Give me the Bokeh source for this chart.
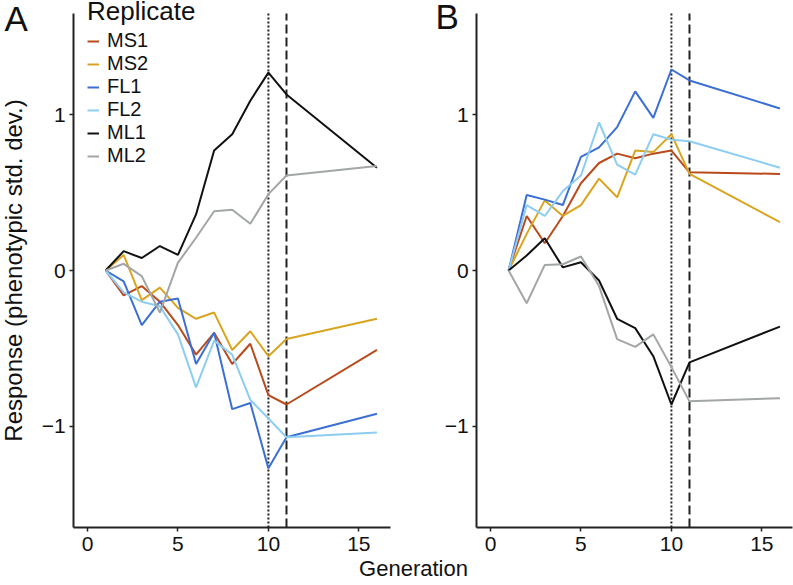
from bokeh.plotting import figure
from bokeh.models import Range1d, Label, Legend, LegendItem, FixedTicker, LinearAxis
from bokeh.embed import file_html
from bokeh.resources import INLINE

generation = [1, 2, 3, 4, 5, 6, 7, 8, 9, 10, 11, 16]
replicates = ["MS1", "MS2", "FL1", "FL2", "ML1", "ML2"]
colors = ["#B94A1C", "#D9A520", "#3C6FD4", "#8DCDF2", "#111111", "#A2A6A6"]

# Panel A
A_MS1 = [0, -0.16, -0.10, -0.20, -0.35, -0.54, -0.40, -0.60, -0.47, -0.80, -0.86, -0.51]
A_MS2 = [0, 0.10, -0.19, -0.11, -0.24, -0.31, -0.27, -0.51, -0.39, -0.55, -0.44, -0.31]
A_FL1 = [0, -0.07, -0.35, -0.20, -0.18, -0.60, -0.40, -0.89, -0.85, -1.27, -1.07, -0.92]
A_FL2 = [0, -0.14, -0.20, -0.23, -0.41, -0.75, -0.45, -0.54, -0.83, -0.95, -1.07, -1.04]
A_ML1 = [0, 0.124, 0.08, 0.157, 0.10, 0.36, 0.77, 0.875, 1.09, 1.27, 1.13, 0.66]
A_ML2 = [0, 0.043, -0.036, -0.27, 0.05, 0.21, 0.38, 0.39, 0.30, 0.49, 0.61, 0.67]

# Panel B
B_MS1 = [0, 0.35, 0.175, 0.35, 0.56, 0.69, 0.75, 0.72, 0.75, 0.77, 0.63, 0.62]
B_MS2 = [0, 0.235, 0.45, 0.35, 0.42, 0.59, 0.47, 0.77, 0.76, 0.875, 0.62, 0.31]
B_FL1 = [0, 0.485, 0.455, 0.42, 0.73, 0.79, 0.92, 1.15, 0.98, 1.29, 1.22, 1.04]
B_FL2 = [0, 0.42, 0.35, 0.51, 0.61, 0.95, 0.68, 0.615, 0.875, 0.84, 0.83, 0.66]
B_ML1 = [0, 0.096, 0.207, 0.02, 0.053, -0.064, -0.31, -0.37, -0.55, -0.86, -0.59, -0.36]
B_ML2 = [0, -0.21, 0.036, 0.04, 0.09, -0.10, -0.44, -0.49, -0.41, -0.62, -0.84, -0.82]

x_ticks = [0, 5, 10, 15]
y_ticks = [-1, 0, 1]
selection_end = 10
relaxed_start = 11
x_lim = (-0.77, 16.75)
y_lim = (-1.65, 1.65)

FONT = "Liberation Sans"
INK = "#111111"

# canvas geometry (pixels)
W, H = 793, 585
PX_X, PX_Y = 18.09, 155.8
A_X0, B_X0, Y0 = 87, 490, 270

p = figure(width=W, height=H, output_backend="svg", toolbar_location=None,
           x_axis_type=None, y_axis_type=None, min_border=0,
           x_range=Range1d(-A_X0 / PX_X, (W - A_X0) / PX_X),
           y_range=Range1d(-(H - Y0) / PX_Y, Y0 / PX_Y))
p.extra_x_ranges = {"B": Range1d(-B_X0 / PX_X, (W - B_X0) / PX_X)}
p.outline_line_color = None
p.background_fill_color = "white"
p.border_fill_color = "white"
p.grid.visible = False


def style_axis(ax):
    ax.axis_line_width = 2
    ax.axis_line_color = "#222222"
    ax.major_tick_line_color = "#222222"
    ax.major_tick_line_width = 1.5
    ax.major_tick_out = 4
    ax.major_tick_in = 0
    ax.minor_tick_line_color = None
    ax.major_label_text_font = FONT
    ax.major_label_text_font_size = "21px"
    ax.major_label_text_color = INK


b_xmax = (W - B_X0) / PX_X - 0.03
for rname, xmax in (("default", x_lim[1]), ("B", b_xmax)):
    xa = LinearAxis(x_range_name=rname, fixed_location=y_lim[0], bounds=(x_lim[0], xmax),
                    ticker=FixedTicker(ticks=x_ticks))
    style_axis(xa)
    xa.major_label_standoff = 5
    p.add_layout(xa, "below")
    ya = LinearAxis(x_range_name=rname, fixed_location=x_lim[0], bounds=y_lim,
                    ticker=FixedTicker(ticks=y_ticks))
    style_axis(ya)
    ya.major_label_standoff = 4
    if rname == "default":
        ya.axis_label = "Response (phenotypic std. dev.)"
        ya.axis_label_text_font = FONT
        ya.axis_label_text_font_size = "24px"
        ya.axis_label_text_font_style = "normal"
        ya.axis_label_text_color = INK
        ya.axis_label_standoff = 12
    p.add_layout(ya, "left")

    # vertical reference lines at generation 10 (dotted) and 11 (dashed)
    p.segment(x0=[selection_end], y0=[y_lim[0]], x1=[selection_end], y1=[y_lim[1]],
              x_range_name=rname, line_color="#222222", line_width=2, line_dash="2 2")
    p.segment(x0=[relaxed_start], y0=[y_lim[0]], x1=[relaxed_start], y1=[y_lim[1]],
              x_range_name=rname, line_color="#222222", line_width=2, line_dash="9 4")

items = []
for name, ys, c in zip(replicates, [A_MS1, A_MS2, A_FL1, A_FL2, A_ML1, A_ML2], colors):
    r = p.line(generation, ys, line_color=c, line_width=2)
    items.append(LegendItem(label=name, renderers=[r]))
for name, ys, c in zip(replicates, [B_MS1, B_MS2, B_FL1, B_FL2, B_ML1, B_ML2], colors):
    p.line(generation, ys, line_color=c, line_width=2, x_range_name="B")

lg = Legend(items=items, location=(87, 418))
lg.title = "Replicate"
lg.title_text_font = FONT
lg.title_text_font_size = "26px"
lg.title_text_font_style = "normal"
lg.title_text_color = INK
lg.title_standoff = 2
lg.label_text_font = FONT
lg.label_text_font_size = "20px"
lg.label_text_color = INK
lg.glyph_width = 12
lg.glyph_height = 14
lg.label_height = 14
lg.label_standoff = 8
lg.spacing = -5
lg.padding = 0
lg.margin = 0
lg.background_fill_alpha = 0
lg.border_line_color = None
p.add_layout(lg, "center")

p.add_layout(Label(x=4, y=H - 37, x_units="screen", y_units="screen", text="A",
                   text_font=FONT, text_font_size="35px", text_color=INK))
p.add_layout(Label(x=435, y=H - 35, x_units="screen", y_units="screen", text="B",
                   text_font=FONT, text_font_size="35px", text_color=INK))
p.add_layout(Label(x=413, y=5, x_units="screen", y_units="screen", text="Generation",
                   text_font=FONT, text_font_size="22px", text_align="center", text_color=INK))

open("out.html", "w").write(file_html(p, INLINE))
